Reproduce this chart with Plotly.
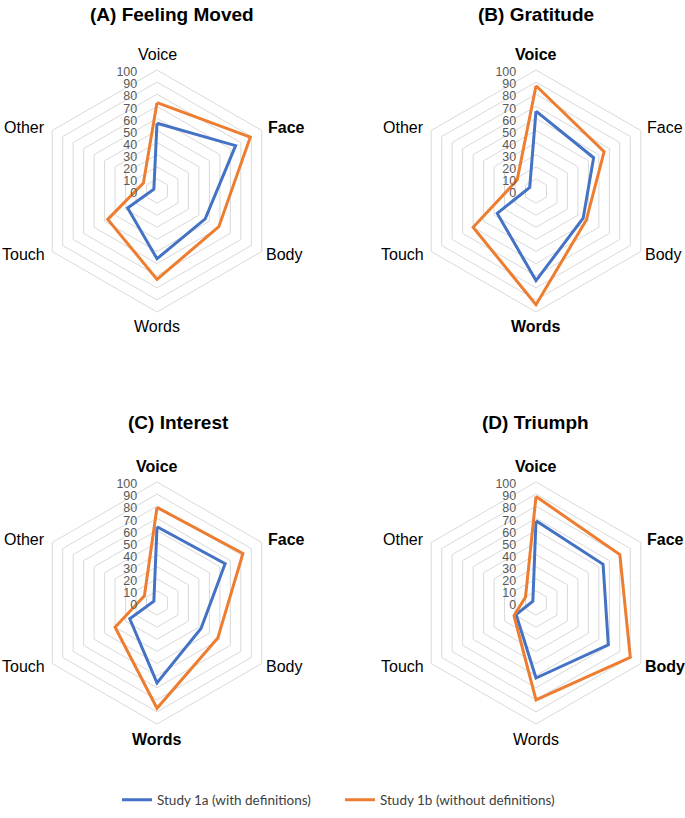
import plotly.graph_objects as go

categories = ["Voice", "Face", "Body", "Words", "Touch", "Other"]
panel_titles = ["(A) Feeling Moved", "(B) Gratitude", "(C) Interest", "(D) Triumph"]
bold_labels = [
    ["Face"],
    ["Voice", "Words"],
    ["Voice", "Face", "Words"],
    ["Voice", "Face", "Body"],
]
study_1a = [
    [56, 75, 46, 56, 28, 3],
    [66, 55, 45, 74, 37, 6],
    [63, 65, 42, 66, 26, 3],
    [68, 64, 69, 62, 19, 3],
]
study_1b = [
    [73, 89, 59, 73, 47, 13],
    [87, 65, 48, 94, 60, 18],
    [79, 82, 58, 87, 40, 12],
    [88, 80, 90, 80, 21, 10],
]
series_names = ["Study 1a (with definitions)", "Study 1b (without definitions)"]
series_colors = ["#4472C4", "#ED7D31"]
radial_ticks = list(range(0, 101, 10))

W, H = 685, 818
R = 121
centers = [(157, 191), (536, 191), (157, 603), (536, 603)]
title_pos = [(172, 14), (536, 14), (178, 422), (535, 422)]
# category label placement relative to each radar centre: (dx, dy, xanchor)
label_offsets = {
    "Voice": (0, -137, "center"),
    "Face": (109, -64, "left"),
    "Body": (107, 63, "left"),
    "Words": (0, 136, "center"),
    "Touch": (-110, 63, "right"),
    "Other": (-110, -64, "right"),
}

fig = go.Figure()
layout_polars = {}
annotations = []
for i in range(4):
    pname = "polar" if i == 0 else f"polar{i+1}"
    cx, cy = centers[i]
    dom_x = [(cx - R) / W, (cx + R) / W]
    dom_y = [1 - (cy + R) / H, 1 - (cy - R) / H]
    layout_polars[pname] = dict(
        domain=dict(x=dom_x, y=dom_y),
        gridshape="linear",
        bgcolor="white",
        radialaxis=dict(
            range=[0, 100],
            tickvals=radial_ticks,
            ticktext=[str(v) for v in radial_ticks],
            angle=90,
            side="counterclockwise",
            showline=False,
            ticks="outside",
            ticklen=8,
            tickcolor="rgba(0,0,0,0)",
            gridcolor="#D9D9D9",
            gridwidth=1,
            tickfont=dict(family="Liberation Sans, Arial", size=12.5, color="#595959"),
        ),
        angularaxis=dict(
            type="category",
            categoryarray=categories,
            rotation=90,
            direction="clockwise",
            showgrid=False,
            showline=True,
            linecolor="#D9D9D9",
            linewidth=1,
            ticks="",
            showticklabels=False,
        ),
    )
    for vals, name, col in zip([study_1a[i], study_1b[i]], series_names, series_colors):
        fig.add_trace(go.Scatterpolar(
            r=vals + [vals[0]],
            theta=categories + [categories[0]],
            mode="lines",
            line=dict(color=col, width=3),
            name=name,
            showlegend=(i == 0),
            subplot=pname,
            hoverinfo="skip",
        ))
    for c in categories:
        dx, dy, xa = label_offsets[c]
        txt = f"<b>{c}</b>" if c in bold_labels[i] else c
        annotations.append(dict(
            x=(cx + dx) / W, y=1 - (cy + dy) / H, xref="paper", yref="paper",
            text=txt, showarrow=False, xanchor=xa, yanchor="middle",
            font=dict(family="Liberation Sans, Arial", size=16, color="black"),
        ))

for i, t in enumerate(panel_titles):
    x, y = title_pos[i]
    annotations.append(dict(
        x=x / W, y=1 - y / H, xref="paper", yref="paper",
        text=f"<b>{t}</b>", showarrow=False,
        font=dict(family="Liberation Sans, Arial", size=19, color="black"),
        xanchor="center", yanchor="middle",
    ))

fig.update_layout(
    width=W, height=H,
    margin=dict(l=0, r=0, t=0, b=0),
    paper_bgcolor="white",
    plot_bgcolor="white",
    annotations=annotations,
    showlegend=True,
    legend=dict(
        orientation="h", x=340 / W, y=1 - 800 / H, xanchor="center", yanchor="middle",
        font=dict(family="Lato, Liberation Sans", size=13.5, color="#404040"),
        entrywidth=178, entrywidthmode="pixels", tracegroupgap=0,
    ),
    **layout_polars,
)

fig.write_html(
    "out.html",
    config={"displayModeBar": False},
    post_script="document.body.style.margin='0';document.body.style.padding='0';",
)
